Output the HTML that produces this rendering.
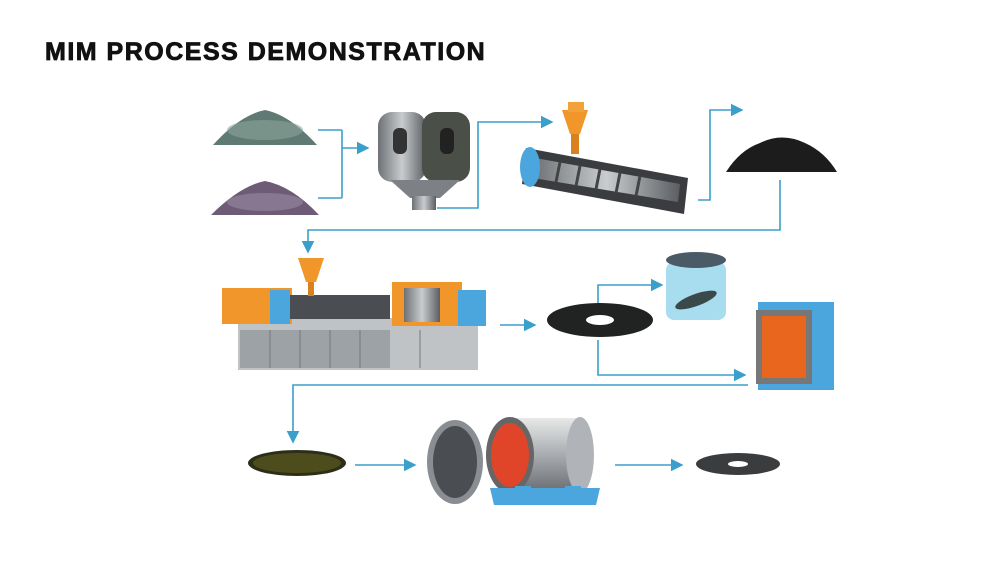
<!DOCTYPE html>
<html><head><style>
html,body{margin:0;padding:0;background:#fff;}
.t{position:absolute;left:45px;top:38px;font-family:"Liberation Sans",sans-serif;font-weight:bold;font-size:25px;letter-spacing:1.5px;color:#111;-webkit-text-stroke:0.8px #111;}
</style></head><body>
<div style="position:relative;width:1000px;height:562px;overflow:hidden;">
<div class="t">MIM PROCESS DEMONSTRATION</div>
<svg width="1000" height="562" style="position:absolute;left:0;top:0">
<defs>
<marker id="a" markerWidth="8" markerHeight="8" refX="7" refY="4" orient="auto"><path d="M0,0 L8,4 L0,8 z" fill="#3b9fcb"/></marker>
<linearGradient id="g" x1="0" x2="1"><stop offset="0" stop-color="#6d7175"/><stop offset=".5" stop-color="#c9ccce"/><stop offset="1" stop-color="#5a5e62"/></linearGradient>
<linearGradient id="cy" x1="0" y1="0" x2="0" y2="1"><stop offset="0" stop-color="#e8e8e8"/><stop offset=".5" stop-color="#a8acb0"/><stop offset="1" stop-color="#6a6e72"/></linearGradient>
</defs>
<g fill="none" stroke="#3b9fcb" stroke-width="1.6">
<path d="M318,130 H342 M318,198 H342 M342,130 V198 M342,148 H368" marker-end="url(#a)"/>
<path d="M437,208 H478 V122 H552" marker-end="url(#a)"/>
<path d="M698,200 H710 V110 H742" marker-end="url(#a)"/>
<path d="M780,180 V230 H308 V252" marker-end="url(#a)"/>
<path d="M500,325 H535" marker-end="url(#a)"/>
<path d="M598,303 V285 H662" marker-end="url(#a)"/>
<path d="M598,340 V375 H745" marker-end="url(#a)"/>
<path d="M748,385 H293 V442" marker-end="url(#a)"/>
<path d="M355,465 H415" marker-end="url(#a)"/>
<path d="M615,465 H682" marker-end="url(#a)"/>
</g>
<path d="M213,145 Q240,115 265,110 Q290,115 317,145 Z" fill="#5f7a72"/>
<ellipse cx="265" cy="130" rx="38" ry="10" fill="#8aa39b" opacity=".6"/>
<path d="M211,215 Q240,186 265,181 Q292,186 319,215 Z" fill="#6e5c76"/>
<ellipse cx="265" cy="202" rx="38" ry="9" fill="#9a88a2" opacity=".6"/>
<rect x="378" y="112" width="48" height="70" rx="14" fill="url(#g)"/>
<rect x="422" y="112" width="48" height="70" rx="14" fill="#4a5048"/>
<rect x="393" y="128" width="14" height="26" rx="6" fill="#333"/>
<rect x="440" y="128" width="14" height="26" rx="6" fill="#222"/>
<path d="M390,180 H460 L440,198 H410 Z" fill="#7d8185"/>
<rect x="412" y="196" width="24" height="14" fill="url(#g)"/>
<path d="M526,148 L688,178 L684,214 L522,184 Z" fill="#3a3c40"/>
<path d="M535,158 L680,184 L678,202 L533,178 Z" fill="url(#g)"/>
<g stroke="#444" stroke-width="3"><path d="M560,162 L556,182 M580,166 L576,186 M600,169 L596,189 M620,173 L616,193 M640,176 L636,196"/></g>
<ellipse cx="530" cy="167" rx="10" ry="20" fill="#4aa6dc"/>
<path d="M562,110 H588 L580,134 H570 Z" fill="#f0962a"/>
<rect x="568" y="102" width="16" height="10" fill="#f3a13a"/>
<rect x="571" y="134" width="8" height="20" fill="#d98020"/>
<path d="M726,172 Q740,150 760,143 Q782,132 805,143 Q825,152 837,172 Z" fill="#1c1c1c"/>
<rect x="238" y="318" width="240" height="52" fill="#bfc3c6"/>
<rect x="240" y="330" width="150" height="38" fill="#9da2a6"/>
<g stroke="#777" stroke-width="1"><path d="M270,330 V368 M300,330 V368 M330,330 V368 M360,330 V368 M420,330 V368"/></g>
<rect x="222" y="288" width="70" height="36" fill="#f0962a"/>
<rect x="290" y="295" width="100" height="24" fill="#4a4d52"/>
<rect x="392" y="282" width="70" height="44" fill="#f0962a"/>
<rect x="404" y="288" width="36" height="34" fill="url(#g)"/>
<rect x="458" y="290" width="28" height="36" fill="#4aa6dc"/>
<rect x="270" y="290" width="20" height="34" fill="#4aa6dc"/>
<path d="M298,258 H324 L316,282 H306 Z" fill="#f0962a"/>
<rect x="308" y="282" width="6" height="14" fill="#d98020"/>
<ellipse cx="600" cy="320" rx="53" ry="17" fill="#202322"/>
<ellipse cx="600" cy="320" rx="14" ry="5" fill="#fff"/>
<rect x="666" y="262" width="60" height="58" rx="8" fill="#a8dcef"/>
<ellipse cx="696" cy="260" rx="30" ry="8" fill="#4a5a66"/>
<ellipse cx="696" cy="300" rx="22" ry="6" fill="#3a4a4a" transform="rotate(-20 696 300)"/>
<rect x="758" y="302" width="76" height="88" fill="#4aa6dc"/>
<rect x="756" y="310" width="56" height="74" fill="#777"/>
<rect x="762" y="316" width="44" height="62" fill="#e8661e"/>
<ellipse cx="297" cy="463" rx="49" ry="13" fill="#2d2e18"/>
<ellipse cx="297" cy="463" rx="44" ry="10" fill="#5a5a1e" opacity=".7"/>
<ellipse cx="455" cy="462" rx="28" ry="42" fill="#8a8e92"/>
<ellipse cx="455" cy="462" rx="22" ry="36" fill="#4a4e52"/>
<path d="M510,418 H580 V492 H510 Z" fill="url(#cy)"/>
<ellipse cx="580" cy="455" rx="14" ry="38" fill="#b0b4b8"/>
<ellipse cx="510" cy="455" rx="24" ry="38" fill="#666"/>
<ellipse cx="510" cy="455" rx="19" ry="32" fill="#e0452a"/>
<path d="M490,488 H600 L596,505 H494 Z" fill="#4aa6dc"/>
<rect x="515" y="486" width="16" height="14" fill="#4aa6dc"/>
<rect x="565" y="486" width="16" height="14" fill="#4aa6dc"/>
<ellipse cx="738" cy="464" rx="42" ry="11" fill="#3a3c3e"/>
<ellipse cx="738" cy="464" rx="10" ry="3" fill="#fff"/>
</svg>
</div>
</body></html>
